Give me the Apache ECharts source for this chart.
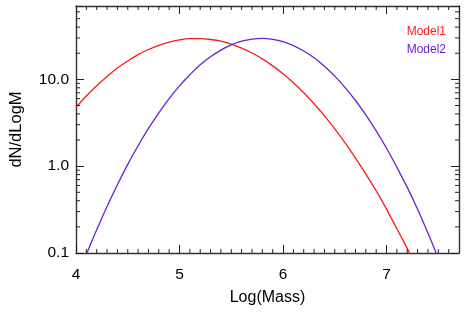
<!DOCTYPE html>
<html>
<head>
<meta charset="utf-8">
<script src="https://cdn.jsdelivr.net/npm/echarts@6/dist/echarts.min.js"></script>
<style>
html,body{margin:0;padding:0;background:#fff;}
#chart{width:469px;height:313px;}
</style>
</head>
<body>
<div id="chart"></div>
<script>
// ---- data ----
const logMass = [4.0,4.1,4.2,4.3,4.4,4.5,4.6,4.7,4.8,4.9,5.0,5.1,5.2,5.3,5.4,5.5,5.6,5.7,5.8,5.9,6.0,6.1,6.2,6.3,6.4,6.5,6.6,6.7,6.8,6.9,7.0,7.1,7.2,7.3,7.4,7.5];
const model1 = [4.76,6.44,8.46,10.8,13.5,16.3,19.3,22.1,24.7,26.9,28.5,29.4,29.5,28.8,27.5,25.4,22.9,20.1,17.2,14.3,11.6,9.12,7.00,5.24,3.80,2.69,1.85,1.24,0.81,0.52,0.32,0.19,0.113,0.064,null,null];
const model2 = [0.048,0.096,0.185,0.344,0.612,1.05,1.72,2.72,4.12,6.01,8.41,11.3,14.7,18.2,21.7,24.9,27.5,29.1,29.6,28.9,27.2,24.5,21.2,17.7,14.2,10.9,8.05,5.71,3.90,2.55,1.61,0.97,0.57,0.32,0.17,0.087];
const seriesNames = ['Model1','Model2'];
const xTickLabels = ['4','5','6','7'];
const yTickLabels = {'0.1':'0.1','1':'1.0','10':'10.0'};
const xMin = 4, xMax = 7.7, yMin = 0.1, yMax = 70;

// minor tick positions (IDL style)
const xMinorTicks = [];
for (let i = 41; i < 77; i++) { if (i % 10 !== 0) xMinorTicks.push(i / 10); }
const yMinorTicks = [];
[0.1, 1, 10].forEach(d => { for (let m = 2; m <= 9; m++) { const v = +(d * m).toFixed(3); if (v < yMax) yMinorTicks.push(v); } });

const colors = ['#ff1a1a', '#6a22d0'];
const FONT = 'Liberation Sans';

const tickData = [];
xMinorTicks.forEach(v => tickData.push([v, yMin, 0]));
yMinorTicks.forEach(v => tickData.push([xMin, v, 1]));

const chart = echarts.init(document.getElementById('chart'), null, {renderer: 'canvas'});

const axisLineStyle = {color: '#333', width: 1.4};
const baseX = {
  type: 'value', min: xMin, max: xMax, interval: 1,
  splitLine: {show: false},
  axisLine: {show: true, onZero: false, lineStyle: axisLineStyle},
  axisTick: {show: true, inside: true, length: 8, lineStyle: {color: '#222', width: 1}}
};
const baseY = {
  type: 'log', logBase: 10, min: yMin, max: yMax,
  splitLine: {show: false},
  axisLine: {show: true, onZero: false, lineStyle: axisLineStyle},
  axisTick: {show: true, inside: true, length: 8, lineStyle: {color: '#222', width: 1}}
};

chart.setOption({
  animation: false,
  backgroundColor: '#fff',
  textStyle: {fontFamily: FONT},
  grid: {left: 75, right: 10, top: 6, bottom: 60, containLabel: false},
  legend: {
    orient: 'vertical', right: 23, top: 25, padding: 0,
    icon: 'none', itemWidth: 0, itemHeight: 14, itemGap: 5,
    selectedMode: false,
    data: seriesNames.map((n, i) => ({name: n, textStyle: {color: colors[i], fontSize: 12, fontFamily: FONT}}))
  },
  xAxis: [
    Object.assign({}, baseX, {
      position: 'bottom',
      name: 'Log(Mass)', nameLocation: 'middle', nameGap: 37,
      nameTextStyle: {fontSize: 16, color: '#000', fontFamily: FONT},
      axisLabel: {
        show: true, margin: 14, fontSize: 15.5, color: '#000', fontFamily: FONT,
        showMaxLabel: false,
        formatter: v => { const i = Math.round(v) - 4; return (Math.abs(v - Math.round(v)) < 1e-6 && xTickLabels[i] !== undefined) ? xTickLabels[i] : ''; }
      }
    }),
    Object.assign({}, baseX, {position: 'top', axisLabel: {show: false}})
  ],
  yAxis: [
    Object.assign({}, baseY, {
      position: 'left',
      name: 'dN/dLogM', nameLocation: 'middle', nameGap: 51, nameRotate: 90,
      nameTextStyle: {fontSize: 16.5, color: '#000', fontFamily: FONT},
      axisLabel: {
        show: true, margin: 7, fontSize: 15.5, color: '#000', fontFamily: FONT,
        formatter: v => { const k = String(+v.toPrecision(3)); return yTickLabels[k] !== undefined ? yTickLabels[k] : ''; }
      }
    }),
    Object.assign({}, baseY, {position: 'right', axisLabel: {show: false}})
  ],
  series: [
    {
      name: seriesNames[0], type: 'line', xAxisIndex: 0, yAxisIndex: 0,
      data: logMass.map((x, i) => [x, model1[i]]).filter(d => d[1] !== null),
      showSymbol: false, smooth: 0.4, clip: true,
      lineStyle: {color: colors[0], width: 1.3}, itemStyle: {color: colors[0]}
    },
    {
      name: seriesNames[1], type: 'line', xAxisIndex: 0, yAxisIndex: 0,
      data: logMass.map((x, i) => [x, model2[i]]).filter(d => d[1] !== null),
      showSymbol: false, smooth: 0.4, clip: true,
      lineStyle: {color: colors[1], width: 1.3}, itemStyle: {color: colors[1]}
    },
    {
      name: 'minorTicks', type: 'custom', xAxisIndex: 0, yAxisIndex: 0,
      silent: true, clip: false, z: 5,
      data: tickData,
      renderItem: function (params, api) {
        const cs = params.coordSys;
        const p = api.coord([api.value(0), api.value(1)]);
        const len = 4;
        const style = {stroke: '#222', lineWidth: 1};
        if (api.value(2) === 0) {
          const bottom = cs.y + cs.height, top = cs.y;
          return {type: 'group', children: [
            {type: 'line', shape: {x1: p[0], y1: bottom, x2: p[0], y2: bottom - len}, style: style},
            {type: 'line', shape: {x1: p[0], y1: top, x2: p[0], y2: top + len}, style: style}
          ]};
        } else {
          const left = cs.x, right = cs.x + cs.width;
          return {type: 'group', children: [
            {type: 'line', shape: {x1: left, y1: p[1], x2: left + len, y2: p[1]}, style: style},
            {type: 'line', shape: {x1: right, y1: p[1], x2: right - len, y2: p[1]}, style: style}
          ]};
        }
      }
    }
  ]
});
</script>
</body>
</html>
